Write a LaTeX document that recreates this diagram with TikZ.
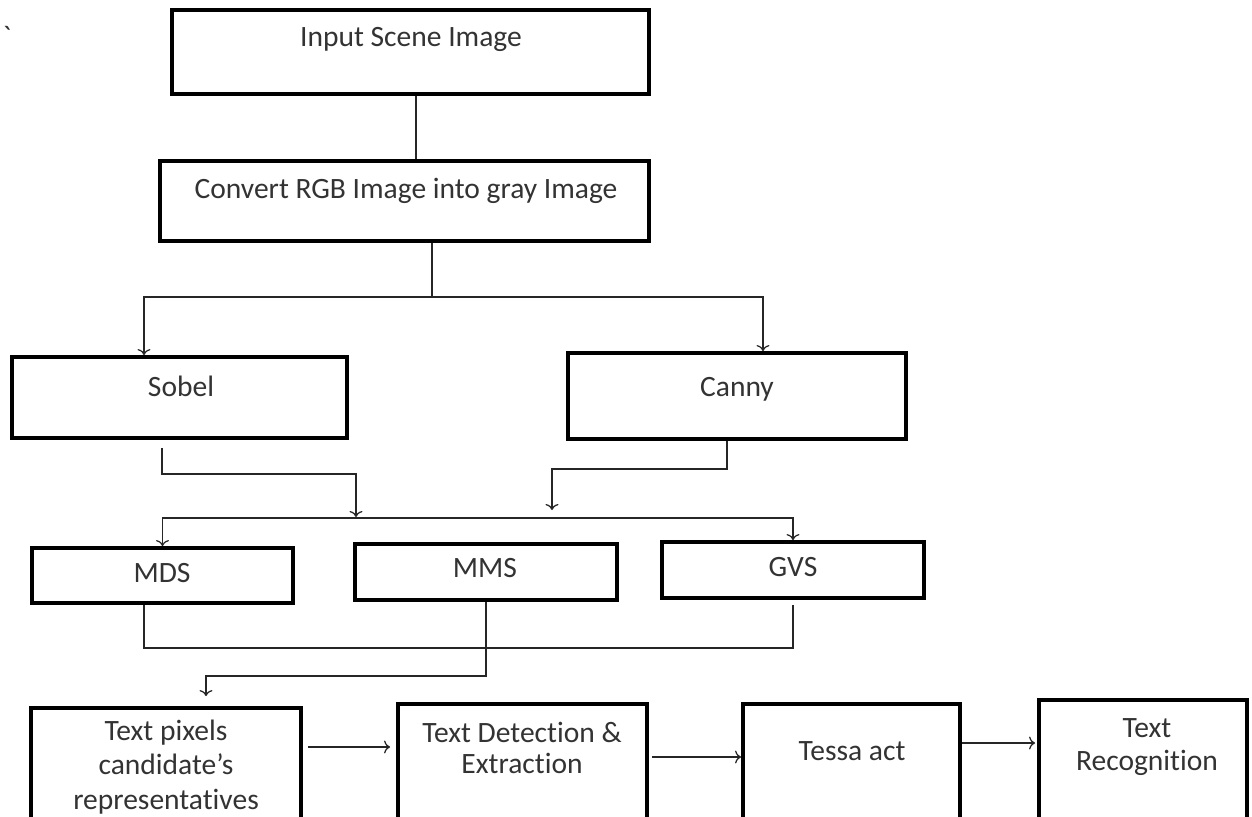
\documentclass[tikz,border=0pt]{standalone}
\usepackage{fontspec}
\setmainfont[Ligatures={TeX,NoCommon}]{Carlito}
\usepackage{tikz}
\usetikzlibrary{arrows.meta,positioning}

\begin{document}
\begin{tikzpicture}[
    x=0.02cm, y=-0.02cm,
    font=\fontsize{16.8}{19.5}\selectfont,
    stage/.style={rectangle, draw=black, line width=2.2pt, inner sep=0pt},
    boxtext/.style={inner sep=0pt, align=center, text=black!80},
    link/.style={draw=black!85, line width=0.7pt},
    arrow/.style={link, -{To[length=1.2mm, width=2.6mm]}}
]
\useasboundingbox (0,0) rectangle (1252,816);
\fill[white] (0,0) rectangle (1252,816);

\node[boxtext] (tick) at (7,36) {\textasciigrave};

\node[stage, minimum width=9.54cm, minimum height=1.68cm] (input) at (410.5,52) {};
\node[boxtext] (input-t) at (411,39) {Input Scene Image};

\node[stage, minimum width=9.78cm, minimum height=1.6cm] (convert) at (404.5,201) {};
\node[boxtext] (convert-t) at (406,191) {Convert RGB Image into gray Image};

\node[stage, minimum width=6.7cm, minimum height=1.62cm] (sobel) at (179.5,397.5) {};
\node[boxtext] (sobel-t) at (181,386) {Sobel};

\node[stage, minimum width=6.76cm, minimum height=1.72cm] (canny) at (737,396) {};
\node[boxtext] (canny-t) at (737,389) {Canny};

\node[stage, minimum width=5.22cm, minimum height=1.1cm] (mds) at (162.5,575.5) {};
\node[boxtext] (mds-t) at (162,573) {MDS};

\node[stage, minimum width=5.24cm, minimum height=1.12cm] (mms) at (486,572) {};
\node[boxtext] (mms-t) at (485,568) {MMS};

\node[stage, minimum width=5.24cm, minimum height=1.12cm] (gvs) at (793,570) {};
\node[boxtext] (gvs-t) at (793,567) {GVS};

\node[stage, minimum width=5.4cm, minimum height=2.64cm] (pix) at (166,774) {};
\node[boxtext] (pix-t) at (166,767) {Text pixels\\candidate’s\\representatives};

\node[stage, minimum width=4.98cm, minimum height=2.72cm] (detect) at (522.5,772) {};
\node[boxtext] (detect-t) at (522,748) {Text Detection \&\\[-0.06cm]Extraction};

\node[stage, minimum width=4.34cm, minimum height=2.72cm] (tessa) at (851.5,772) {};
\node[boxtext] (tessa-t) at (852,751) {Tessa act};

\node[stage, minimum width=4.16cm, minimum height=2.8cm] (recog) at (1143,770) {};
\node[boxtext] (recog-t) at (1147,747) {Text\\[-0.04cm]Recognition};

\coordinate (split) at (432,297);
\coordinate (sob-in) at (356,517);
\coordinate (can-in) at (552,510);
\coordinate (bar) at (450,518);
\coordinate (join) at (793,648);

\draw[link] ([xshift=0.11cm]input.south) -- ([xshift=0.11cm]input.south |- convert.north);
\draw[link] (convert.south -| split) -- (split);
\draw[arrow] (split) -| ([xshift=-0.71cm]sobel.north);
\draw[arrow] (split) -| ([xshift=0.52cm]canny.north);
\draw[arrow] ([xshift=-0.35cm,yshift=-0.16cm]sobel.south) -- ++(0,26) -| (sob-in);
\draw[arrow] ([xshift=-0.2cm]canny.south) -- ++(0,28) -| (can-in);
\draw[arrow] (bar) -| (mds.north);
\draw[arrow] (bar) -| (gvs.north);
\draw[link] ([xshift=-0.37cm]mds.south) |- (join) -- ([yshift=-0.1cm]gvs.south);
\draw[arrow] (mms.south) -- ++(0,74) -| ([xshift=0.8cm,yshift=0.2cm]pix.north);
\draw[arrow] ([xshift=0.1cm]pix.east |- 0,747) -- ([xshift=-0.12cm]detect.west |- 0,747);
\draw[arrow] ([xshift=0.06cm]detect.east |- 0,757) -- (tessa.west |- 0,757);
\draw[arrow] (tessa.east |- 0,743) -- ([xshift=-0.04cm]recog.west |- 0,743);
\end{tikzpicture}
\end{document}
